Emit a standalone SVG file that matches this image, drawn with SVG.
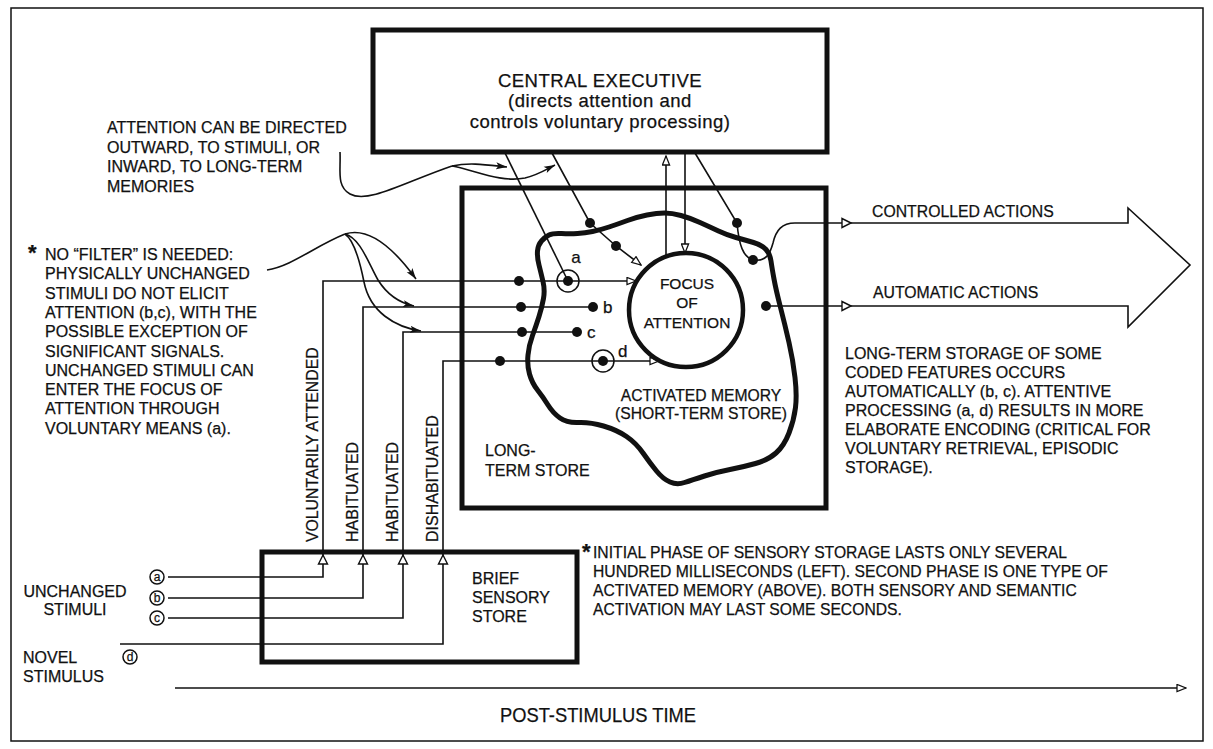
<svg xmlns="http://www.w3.org/2000/svg" width="1213" height="749" viewBox="0 0 1213 749" font-size="16">
<style>
.t{font-family:"Liberation Sans",Arial,Helvetica,sans-serif;fill:#111;stroke:#111;stroke-width:0.25}
.ce{font-size:18.5px;letter-spacing:0.5px}
.thin{stroke:#111;stroke-width:1.6;fill:none}
.thick{stroke:#111;stroke-width:5;fill:none}
.dot{fill:#111}
.oa{fill:#fff;stroke:#111;stroke-width:1.4}
.ring{fill:none;stroke:#111;stroke-width:1.5}
</style>
<defs>
<marker id="open" viewBox="0 0 12 10" refX="11" refY="5" markerWidth="11" markerHeight="9" markerUnits="userSpaceOnUse" orient="auto">
<path d="M1,1 L11,5 L1,9 Z" fill="#fff" stroke="#111" stroke-width="1.4"/>
</marker>
<marker id="fill" viewBox="0 0 12 9" refX="11" refY="4.5" markerWidth="12" markerHeight="9" markerUnits="userSpaceOnUse" orient="auto">
<path d="M0,1 L11,4.5 L0,8 L2.5,4.5 Z" fill="#111"/>
</marker>
</defs>
<rect width="1213" height="749" fill="#fff"/>
<rect x="11" y="8" width="1192" height="733" fill="none" stroke="#111" stroke-width="1.5"/>

<g id="long-term-store">
<rect x="462" y="188" width="364" height="320" class="thick"/>
<text class="t" x="485" y="456">LONG-</text>
<text class="t" x="485" y="476">TERM STORE</text>
</g>

<g id="activated-memory">
<path class="thick" d="M549,235 Q553,233 561.5,233.5 Q570,234 577.5,233.5 Q585,233 592.5,231.5 Q600,230 609,227 Q618,224 627.5,220.5 Q637,217 647,215 Q657,213 664.5,213 Q672,213 681,215.5 Q690,218 700,222.5 Q710,227 718.5,231 Q727,235 736,237.5 Q745,240 753.5,242.5 Q762,245 766,249.5 Q770,254 771,261 Q772,268 774,279 Q776,290 780.5,307.5 Q785,325 789,342.5 Q793,360 795,377.5 Q797,395 795.5,407.5 Q794,420 789,433 Q784,446 776,453 Q768,460 755.5,463.5 Q743,467 730,469.5 Q717,472 704.5,476 Q692,480 684.5,482.5 Q677,485 670,482 Q663,479 656.5,471 Q650,463 643,453 Q636,443 626.5,436.5 Q617,430 603.5,426 Q590,422 578.5,422.5 Q567,423 560,418 Q553,413 548,405 Q543,397 537.5,390 Q532,383 529.5,374 Q527,365 528,355 Q529,345 532.5,335.5 Q536,326 539,316.5 Q542,307 543.5,298.5 Q545,290 543,281.5 Q541,273 539,265 Q537,257 537.5,251 Q538,245 541.5,241 Q545,237 549,235 Z"/>
<text class="t" x="701" y="401" text-anchor="middle" font-size="15.7">ACTIVATED MEMORY</text>
<text class="t" x="701" y="419" text-anchor="middle" font-size="15.7">(SHORT-TERM STORE)</text>
</g>

<g id="central-executive">
<rect x="373" y="30" width="454" height="122" fill="#fff" stroke="#111" stroke-width="5"/>
<text class="t ce" x="600" y="86.5" text-anchor="middle">CENTRAL EXECUTIVE</text>
<text class="t ce" x="600" y="107" text-anchor="middle">(directs attention and</text>
<text class="t ce" x="600" y="127.5" text-anchor="middle">controls voluntary processing)</text>
</g>

<g id="brief-sensory-store">
<rect x="262" y="552" width="315" height="110" class="thick"/>
<text class="t" x="472" y="584">BRIEF</text>
<text class="t" x="472" y="603">SENSORY</text>
<text class="t" x="472" y="622">STORE</text>
</g>

<g id="connectors">
<path class="thin" d="M168,577 H323 V281 H636" marker-end="url(#open)"/>
<path class="thin" d="M168,598 H363 V307 H593"/>
<path class="thin" d="M168,618 H403 V332 H577"/>
<path class="thin" d="M120,644 H443 V361 H659" marker-end="url(#open)"/>
<polygon class="oa" points="323,555 318.5,564 327.5,564"/>
<polygon class="oa" points="363,555 358.5,564 367.5,564"/>
<polygon class="oa" points="403,555 398.5,564 407.5,564"/>
<polygon class="oa" points="443,555 438.5,564 447.5,564"/>
<path class="thin" d="M505,153 L568,281"/>
<path class="thin" d="M552,153 L590,223 L616,246 L641,265" marker-end="url(#open)"/>
<path class="thin" d="M666,257 V156" marker-end="url(#open)"/>
<path class="thin" d="M685,153 V253" marker-end="url(#open)"/>
<path class="thin" d="M695,153 L737,223 C739,245 743,257 753,260"/>
<path class="thin" d="M753,260 C766,262 770,254 773,243 C776,230 782,223 795,223 H1128 V208 L1190,265 L1128,327 V306 H766"/>
<polygon class="oa" points="851,223 842,218.5 842,227.5"/>
<polygon class="oa" points="851,306 842,301.5 842,310.5"/>
<path class="thin" d="M340,152 C341,170 336,186 350,194 C368,204 405,182 452,166"/>
<path class="thin" d="M452,166 C470,162 488,165 507,167" marker-end="url(#fill)"/>
<path class="thin" d="M452,166 C475,170 500,183 525,178 C538,175 547,169 555,165" marker-end="url(#fill)"/>
<path class="thin" d="M267,270 C292,266 315,246 345,234"/>
<path class="thin" d="M345,234 C370,226 395,250 416,279" marker-end="url(#fill)"/>
<path class="thin" d="M345,234 C360,238 368,262 378,280 C388,296 400,303 414,306" marker-end="url(#fill)"/>
<path class="thin" d="M345,234 C354,240 360,262 364,282 C370,312 395,327 421,331" marker-end="url(#fill)"/>
<path class="thin" d="M175,688 H1186" marker-end="url(#open)"/>
<circle class="dot" cx="519" cy="281" r="5"/>
<circle class="dot" cx="568" cy="281" r="5"/>
<circle class="ring" cx="568" cy="281" r="11"/>
<circle class="dot" cx="521" cy="307" r="5"/>
<circle class="dot" cx="593" cy="307" r="5"/>
<circle class="dot" cx="522" cy="332" r="5"/>
<circle class="dot" cx="577" cy="332" r="5"/>
<circle class="dot" cx="500" cy="361" r="5"/>
<circle class="dot" cx="603" cy="361" r="5"/>
<circle class="ring" cx="603" cy="361" r="11"/>
<circle class="dot" cx="590" cy="223" r="5"/>
<circle class="dot" cx="616" cy="246" r="5"/>
<circle class="dot" cx="737" cy="223" r="5"/>
<circle class="dot" cx="753" cy="260" r="5"/>
<circle class="dot" cx="766" cy="306" r="5"/>
<text class="t" x="576" y="263" text-anchor="middle" font-size="17">a</text>
<text class="t" x="603" y="313" font-size="17">b</text>
<text class="t" x="587" y="338" font-size="17">c</text>
<text class="t" x="618" y="357" font-size="17">d</text>
</g>

<g id="focus-of-attention">
<circle cx="686" cy="310" r="57" fill="#fff" stroke="#111" stroke-width="4.5"/>
<text class="t" x="687" y="289" text-anchor="middle" font-size="15.5">FOCUS</text>
<text class="t" x="687" y="308" text-anchor="middle" font-size="15.5">OF</text>
<text class="t" x="687" y="328" text-anchor="middle" font-size="15.5">ATTENTION</text>
</g>

<g id="stream-labels">
<text class="t" transform="translate(318,542) rotate(-90)" font-size="15.8">VOLUNTARILY ATTENDED</text>
<text class="t" transform="translate(358,542) rotate(-90)">HABITUATED</text>
<text class="t" transform="translate(398,542) rotate(-90)">HABITUATED</text>
<text class="t" transform="translate(438,542) rotate(-90)">DISHABITUATED</text>
</g>

<g id="stimuli">
<text class="t" x="75" y="597" text-anchor="middle">UNCHANGED</text>
<text class="t" x="75" y="615" text-anchor="middle">STIMULI</text>
<text class="t" x="23" y="663">NOVEL</text>
<text class="t" x="23" y="682">STIMULUS</text>
<circle class="ring" cx="157" cy="577" r="7" stroke-width="1.2"/>
<text class="t" x="157" y="581" text-anchor="middle" font-size="12">a</text>
<circle class="ring" cx="157" cy="598" r="7" stroke-width="1.2"/>
<text class="t" x="157" y="602" text-anchor="middle" font-size="12">b</text>
<circle class="ring" cx="157" cy="618" r="7" stroke-width="1.2"/>
<text class="t" x="157" y="622" text-anchor="middle" font-size="12">c</text>
<circle class="ring" cx="130" cy="657" r="7" stroke-width="1.2"/>
<text class="t" x="130" y="661" text-anchor="middle" font-size="12">d</text>
</g>

<g id="actions-labels">
<text class="t" x="872" y="217" font-size="15.8">CONTROLLED ACTIONS</text>
<text class="t" x="873" y="298" font-size="15.8">AUTOMATIC ACTIONS</text>
</g>

<g id="note-attention">
<text class="t" x="107" y="133">ATTENTION CAN BE DIRECTED</text>
<text class="t" x="107" y="152.5">OUTWARD, TO STIMULI, OR</text>
<text class="t" x="107" y="172">INWARD, TO LONG-TERM</text>
<text class="t" x="107" y="191.5">MEMORIES</text>
</g>

<g id="note-filter">
<text class="t" x="28" y="260" font-size="22" font-weight="bold">*</text>
<text class="t" x="45" y="260">NO “FILTER” IS NEEDED:</text>
<text class="t" x="45" y="279.3">PHYSICALLY UNCHANGED</text>
<text class="t" x="45" y="298.6">STIMULI DO NOT ELICIT</text>
<text class="t" x="45" y="317.9">ATTENTION (b,c), WITH THE</text>
<text class="t" x="45" y="337.2">POSSIBLE EXCEPTION OF</text>
<text class="t" x="45" y="356.5">SIGNIFICANT SIGNALS.</text>
<text class="t" x="45" y="375.8">UNCHANGED STIMULI CAN</text>
<text class="t" x="45" y="395.1">ENTER THE FOCUS OF</text>
<text class="t" x="45" y="414.4">ATTENTION THROUGH</text>
<text class="t" x="45" y="433.7">VOLUNTARY MEANS (a).</text>
</g>

<g id="note-storage">
<text class="t" x="845" y="359">LONG-TERM STORAGE OF SOME</text>
<text class="t" x="845" y="378">CODED FEATURES OCCURS</text>
<text class="t" x="845" y="397">AUTOMATICALLY (b, c). ATTENTIVE</text>
<text class="t" x="845" y="416">PROCESSING (a, d) RESULTS IN MORE</text>
<text class="t" x="845" y="435">ELABORATE ENCODING (CRITICAL FOR</text>
<text class="t" x="845" y="454">VOLUNTARY RETRIEVAL, EPISODIC</text>
<text class="t" x="845" y="473">STORAGE).</text>
</g>

<g id="note-sensory">
<text class="t" x="582" y="559" font-size="22" font-weight="bold">*</text>
<text class="t" x="593" y="558" font-size="15.7">INITIAL PHASE OF SENSORY STORAGE LASTS ONLY SEVERAL</text>
<text class="t" x="593" y="577" font-size="15.7">HUNDRED MILLISECONDS (LEFT). SECOND PHASE IS ONE TYPE OF</text>
<text class="t" x="593" y="596" font-size="15.7">ACTIVATED MEMORY (ABOVE). BOTH SENSORY AND SEMANTIC</text>
<text class="t" x="593" y="615" font-size="15.7">ACTIVATION MAY LAST SOME SECONDS.</text>
</g>

<g id="time-label">
<text class="t" x="598" y="722" text-anchor="middle" font-size="20" textLength="196" lengthAdjust="spacingAndGlyphs">POST-STIMULUS TIME</text>
</g>
</svg>
